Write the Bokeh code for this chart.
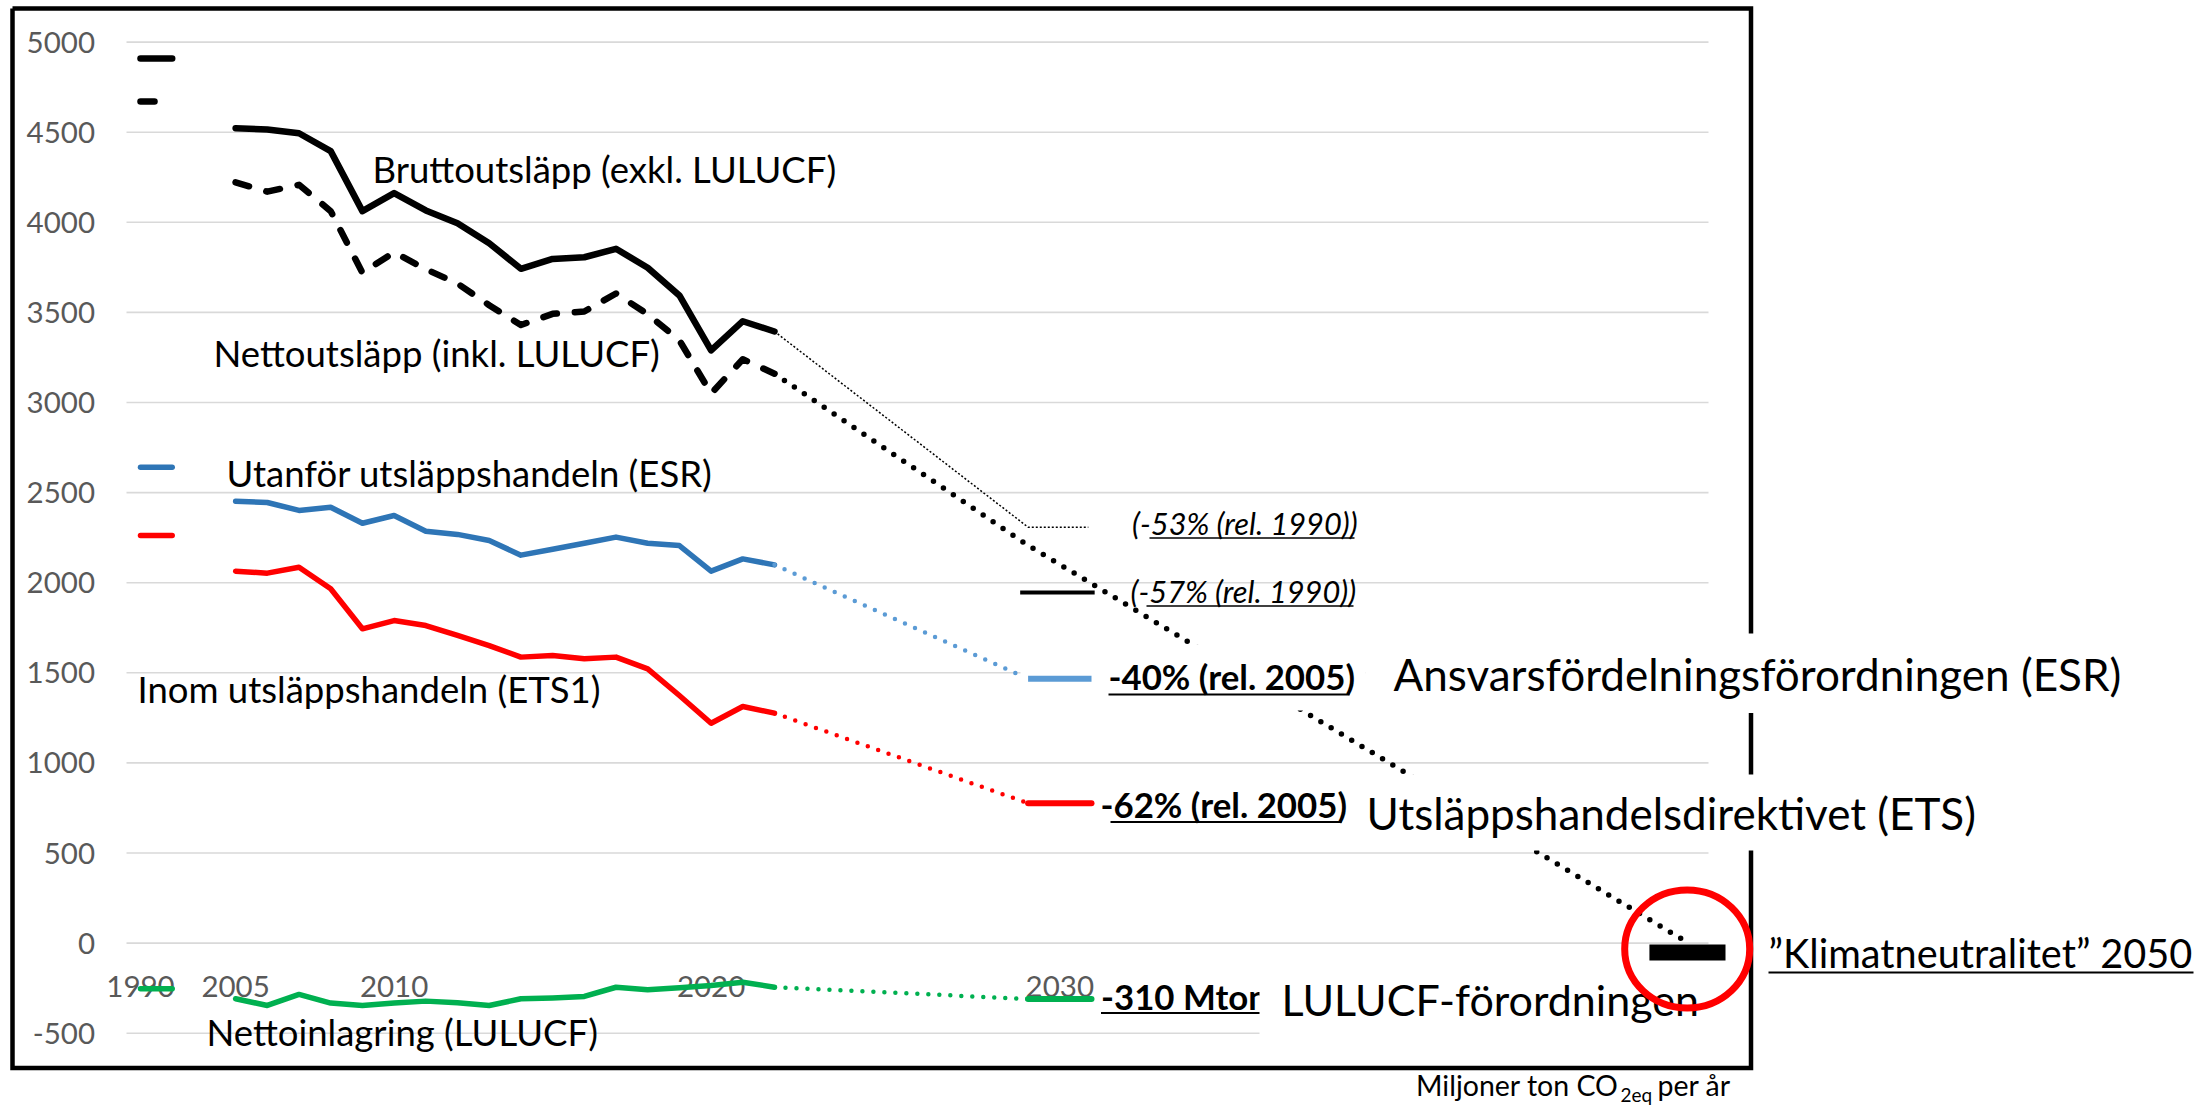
from bokeh.plotting import figure
from bokeh.models import Range1d
from bokeh.embed import file_html
from bokeh.resources import INLINE
from bokeh.core.properties import value

# ---------------- data (Mt CO2eq per year) ----------------
years = list(range(2005, 2023))
gross = [4522, 4515, 4494, 4395, 4062, 4162, 4066, 3995, 3884, 3742, 3797, 3806, 3853, 3748, 3594, 3289, 3451, 3394]
net = [4222, 4170, 4208, 4062, 3720, 3833, 3740, 3660, 3540, 3430, 3492, 3505, 3605, 3490, 3345, 3050, 3240, 3160]
esr = [2452, 2445, 2401, 2419, 2330, 2373, 2286, 2268, 2234, 2153, 2186, 2219, 2253, 2219, 2206, 2064, 2132, 2099]
ets = [2064, 2053, 2086, 1966, 1744, 1790, 1762, 1707, 1651, 1587, 1596, 1578, 1587, 1522, 1374, 1220, 1313, 1276]
lulucf = [-309, -346, -285, -333, -346, -333, -322, -331, -346, -309, -304, -296, -245, -259, -248, -235, -217, -245]

v1990 = {"gross": 4909, "net": 4670, "esr": 2641, "ets": 2262, "lulucf": -254}
t2030 = {"gross_53": 2308, "gross_57": 1946, "net_55": 2207, "esr": 1467, "ets": 776, "lulucf": -310}
net_2050 = 25
klimat_2050 = -52

y_ticks = [5000, 4500, 4000, 3500, 3000, 2500, 2000, 1500, 1000, 500, 0, -500]
x_tick_years = [1990, 2005, 2010, 2020, 2030]
x_tick_labels = ["1990", "2005", "2010", "2020", "2030"]


def slot(year):
    # category slot on the x axis (1990 is followed by two empty slots)
    return 0 if year == 1990 else year - 2002


# ---------------- page-pixel helpers (layout only) ----------------
X0, DX = 140.0, 31.7
Y0, DY = 942.6, 0.1802


def X(px):
    return (px - X0) / DX


def Y(py):
    return (Y0 - py) / DY


W, H = 2210, 1107
p = figure(width=W, height=H, x_range=Range1d(X(0), X(W)), y_range=Range1d(Y(H), Y(0)),
           output_backend="svg", toolbar_location=None, min_border=0,
           x_axis_type=None, y_axis_type=None)
p.grid.visible = False
p.outline_line_color = None
p.background_fill_color = "white"
p.border_fill_color = "white"

BLUE = "#2E75B6"
LBLUE = "#5B9BD5"
RED = "#FF0000"
GREEN = "#00B050"
GRID = "#D9D9D9"
TICK = "#595959"
FONT = value("Lato")


def txt(px, py_mid, s, size, style="normal", align="left", color="black"):
    p.text(x=[X(px)], y=[Y(py_mid)], text=[s], text_font=FONT, text_font_size=value(f"{size}px"),
           text_font_style=style, text_align=align, text_baseline="middle", text_color=color)


def uline(x0, x1, py, w=1.8):
    p.line([X(x0), X(x1)], [Y(py), Y(py)], line_width=w, line_color="black")


def box(l, r, t, b):
    p.quad(left=X(l), right=X(r), top=Y(t), bottom=Y(b), fill_color="white", line_color=None)


# gridlines
p.segment(x0=[X(126)] * len(y_ticks), x1=[X(1708)] * len(y_ticks), y0=y_ticks, y1=y_ticks,
          line_color=GRID, line_width=1.6)

# y tick labels
p.text(x=[X(94.5)] * len(y_ticks), y=y_ticks, text=[str(v) for v in y_ticks], text_font=FONT,
       text_font_size=value("29.5px"), text_align="right", text_baseline="middle", text_color=TICK)

# x tick labels (2030 label sits centred on the 2030 target segment)
xt = [slot(yr) + (1 if yr == 2030 else 0) for yr in x_tick_years]
p.text(x=xt, y=[Y(986)] * len(xt), text=x_tick_labels, text_font=FONT, text_font_size=value("29.5px"),
       text_align="center", text_baseline="middle", text_color=TICK)

# frame
p.line([X(12), X(1750.5), X(1750.5), X(12), X(12)], [Y(8), Y(8), Y(1067.5), Y(1067.5), Y(8)],
       line_width=4.5, line_color="black", line_join="miter")

hx = [slot(y) for y in years]
s22 = slot(2022)
s30 = slot(2030)
s50 = slot(2050)

# 1990 levels
for key, col, w, dash in [("gross", "black", 6.5, "solid"), ("net", "black", 6.5, "14 18"),
                          ("esr", BLUE, 5.5, "solid"), ("ets", RED, 5.5, "solid"), ("lulucf", GREEN, 5.5, "solid")]:
    p.line([slot(1990), slot(1990) + 1], [v1990[key]] * 2, line_width=w, line_color=col,
           line_cap="round", line_dash=dash)

# historical series
p.line(hx, gross, line_width=6.5, line_color="black", line_join="round", line_cap="round")
p.line(hx, net, line_width=6.5, line_color="black", line_join="round", line_cap="round", line_dash="14 18")
p.line(hx, esr, line_width=5.5, line_color=BLUE, line_join="round", line_cap="round")
p.line(hx, ets, line_width=5.5, line_color=RED, line_join="round", line_cap="round")
p.line(hx, lulucf, line_width=5.5, line_color=GREEN, line_join="round", line_cap="round")

# projections
p.line([s22, s30, s30 + 1.9], [gross[-1], t2030["gross_53"], t2030["gross_53"]], line_width=1.5,
       line_color="black", line_dash="2 2")
p.line([s22, s30, s50 + 0.6], [net[-1], t2030["net_55"], net_2050], line_width=5.5, line_color="black",
       line_cap="round", line_dash="0 12")
p.line([s22, s30], [esr[-1], t2030["esr"]], line_width=4.5, line_color=LBLUE, line_cap="round",
       line_dash="0 11")
p.line([s22, s30], [ets[-1], t2030["ets"]], line_width=4.5, line_color=RED, line_cap="round",
       line_dash="0 11")
p.line([s22, s30], [lulucf[-1], t2030["lulucf"]], line_width=4.5, line_color=GREEN, line_cap="round",
       line_dash="0 11")
p.line([s30 - 0.25, s30 + 2.1], [t2030["gross_57"]] * 2, line_width=4, line_color="black")

# white text boxes
box(1020, 1365, 644, 710)
box(1365, 2140, 633, 712.5)
box(1355, 1990, 774, 850)

# 2030 targets
p.line([s30, s30 + 2], [t2030["esr"]] * 2, line_width=6, line_color=LBLUE)
p.line([s30, s30 + 2], [t2030["ets"]] * 2, line_width=6, line_color=RED, line_cap="round")
p.line([s30, s30 + 2], [t2030["lulucf"]] * 2, line_width=6, line_color=GREEN, line_cap="round")

# series labels
txt(372, 168, "Bruttoutsläpp (exkl. LULUCF)", 36.5)
txt(213, 352, "Nettoutsläpp (inkl. LULUCF)", 36.5)
txt(226, 472, "Utanför utsläppshandeln (ESR)", 36.5)
txt(137, 688, "Inom utsläppshandeln (ETS1)", 36.5)
txt(206, 1031, "Nettoinlagring (LULUCF)", 36.5)

# target labels
txt(1131.5, 523, "(-53% (rel. 1990))", 30.8, "italic")
uline(1149, 1354, 537.5, 1.6)
txt(1130, 591, "(-57% (rel. 1990))", 30.8, "italic")
uline(1146, 1353, 605.5, 1.6)
txt(1108, 676, "-40% (rel. 2005)", 34.8, "bold")
uline(1108, 1349, 694, 2)
txt(1100, 804, "-62% (rel. 2005)", 34.8, "bold")
uline(1110, 1341, 821.5, 2)
txt(1100.5, 996, "-310 Mton", 34.8, "bold")
uline(1100.5, 1262, 1012.5, 2)

box(1259, 1745, 963, 1062)

txt(1281, 999, "LULUCF-förordningen", 43)
txt(1393, 673, "Ansvarsfördelningsförordningen (ESR)", 44)
txt(1366, 812, "Utsläppshandelsdirektivet (ETS)", 44)
txt(1768, 952, "”Klimatneutralitet” 2050", 39.7)
uline(1768, 2193, 972, 2)

# unit note
txt(1618, 1084, "Miljoner ton CO", 28.5, align="right")
txt(1620, 1094, "2eq", 19)
txt(1657, 1084, "per år", 28.5)

# 2050 climate neutrality bar and circle
p.line([s50 - 0.4, s50 + 2.0], [klimat_2050] * 2, line_width=16, line_color="black")
p.ellipse(x=[X(1686.7)], y=[Y(948.5)], width=[125], height=[118], width_units="screen",
          height_units="screen", fill_color=None, line_color=RED, line_width=7)

open("out.html", "w").write(file_html(p, INLINE))
